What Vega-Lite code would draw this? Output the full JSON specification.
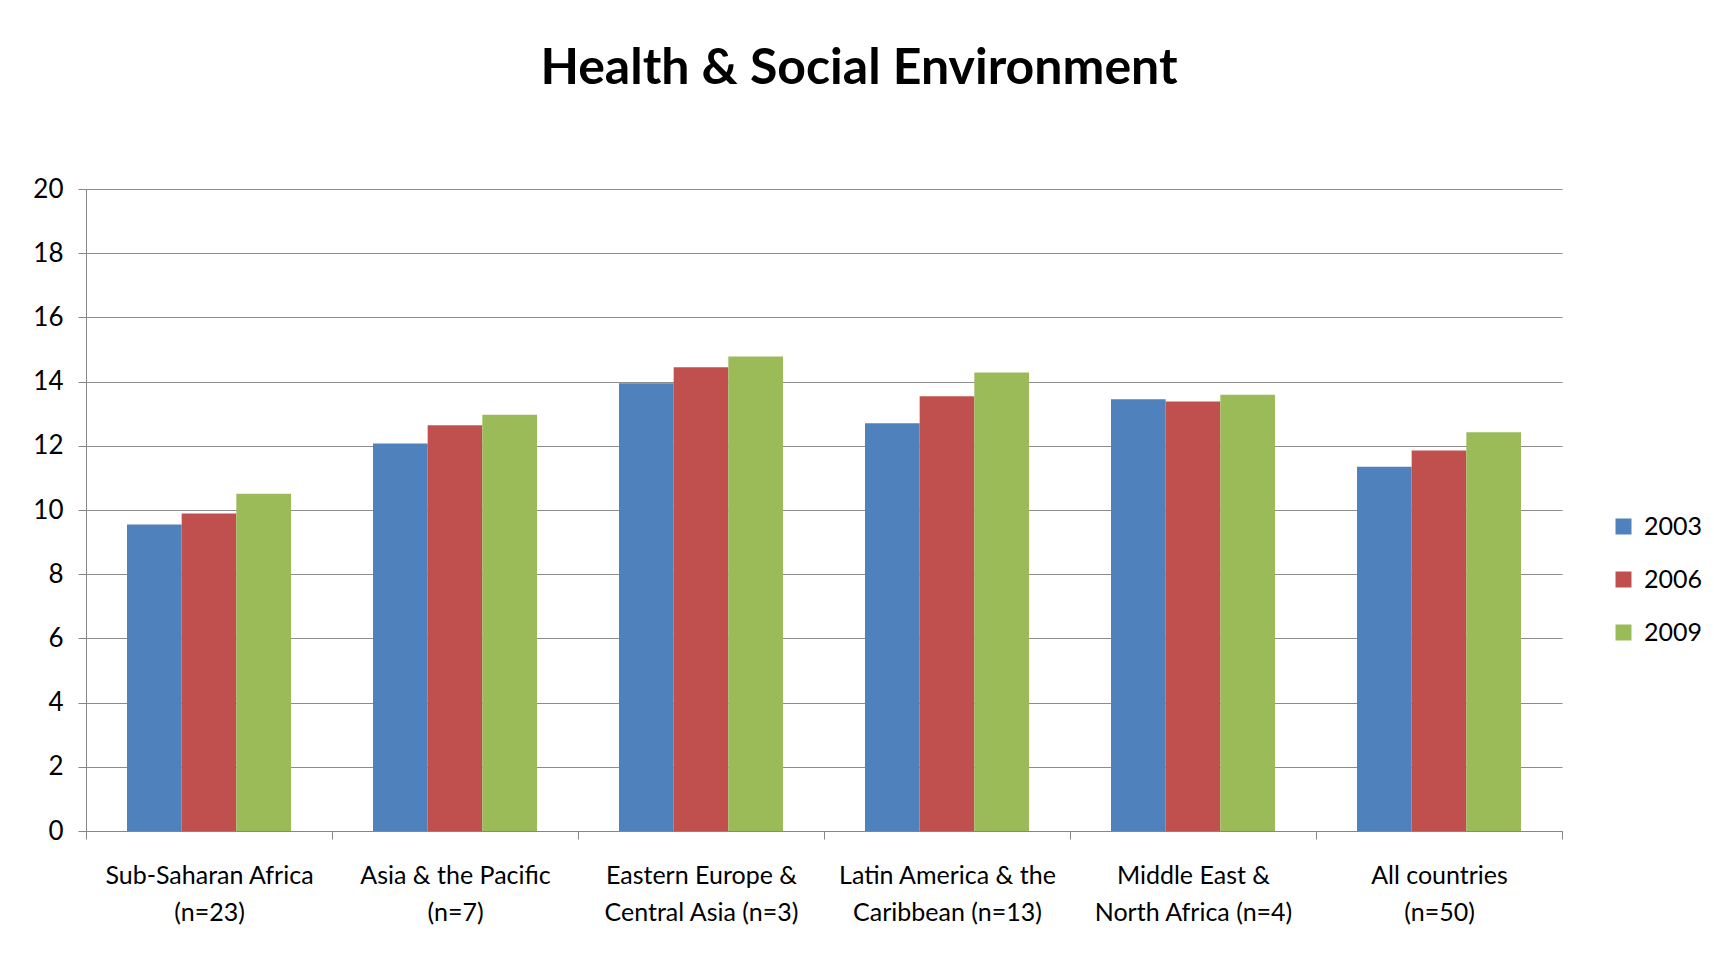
{
  "$schema": "https://vega.github.io/schema/vega-lite/v6.json",
  "width": 1476,
  "height": 642,
  "padding": {"left": 20, "top": 44, "right": 20, "bottom": 20},
  "background": "white",
  "title": {
    "text": "Health & Social Environment",
    "font": "Lato",
    "fontSize": 50,
    "fontWeight": "bold",
    "color": "black",
    "anchor": "middle",
    "offset": 82,
    "dx": 35
  },
  "data": {
    "values": [
      {"region": "Sub-Saharan Africa|(n=23)", "year": "2003", "value": 9.55},
      {"region": "Sub-Saharan Africa|(n=23)", "year": "2006", "value": 9.89},
      {"region": "Sub-Saharan Africa|(n=23)", "year": "2009", "value": 10.51},
      {"region": "Asia & the Pacific|(n=7)", "year": "2003", "value": 12.07},
      {"region": "Asia & the Pacific|(n=7)", "year": "2006", "value": 12.64},
      {"region": "Asia & the Pacific|(n=7)", "year": "2009", "value": 12.97},
      {"region": "Eastern Europe &|Central Asia (n=3)", "year": "2003", "value": 13.95},
      {"region": "Eastern Europe &|Central Asia (n=3)", "year": "2006", "value": 14.45},
      {"region": "Eastern Europe &|Central Asia (n=3)", "year": "2009", "value": 14.78},
      {"region": "Latin America & the|Caribbean (n=13)", "year": "2003", "value": 12.70},
      {"region": "Latin America & the|Caribbean (n=13)", "year": "2006", "value": 13.54},
      {"region": "Latin America & the|Caribbean (n=13)", "year": "2009", "value": 14.28},
      {"region": "Middle East &|North Africa (n=4)", "year": "2003", "value": 13.45},
      {"region": "Middle East &|North Africa (n=4)", "year": "2006", "value": 13.38},
      {"region": "Middle East &|North Africa (n=4)", "year": "2009", "value": 13.59},
      {"region": "All countries|(n=50)", "year": "2003", "value": 11.35},
      {"region": "All countries|(n=50)", "year": "2006", "value": 11.85},
      {"region": "All countries|(n=50)", "year": "2009", "value": 12.42}
    ]
  },
  "mark": {"type": "bar"},
  "encoding": {
    "x": {
      "field": "region",
      "type": "nominal",
      "sort": null,
      "scale": {"paddingInner": 0, "paddingOuter": 0},
      "axis": {
        "title": null,
        "labelAngle": 0,
        "labelExpr": "split(datum.label, '|')",
        "labelFont": "Lato",
        "labelFontSize": 25,
        "labelColor": "black",
        "labelLineHeight": 37,
        "labelPadding": 24,
        "tickBand": "extent",
        "tickSize": 8,
        "tickColor": "#868686",
        "domainColor": "#868686",
        "labelLimit": 0
      }
    },
    "xOffset": {
      "field": "year",
      "type": "nominal",
      "scale": {"paddingInner": 0, "paddingOuter": 0.75}
    },
    "y": {
      "field": "value",
      "type": "quantitative",
      "scale": {"domain": [0, 20], "nice": false},
      "axis": {
        "title": null,
        "values": [0, 2, 4, 6, 8, 10, 12, 14, 16, 18, 20],
        "labelFont": "Lato",
        "labelFontSize": 26,
        "labelColor": "black",
        "labelPadding": 15,
        "tickSize": 8,
        "tickColor": "#868686",
        "domainColor": "#868686",
        "grid": true,
        "gridColor": "#8c8c8c",
        "minExtent": 66,
        "maxExtent": 66
      }
    },
    "color": {
      "field": "year",
      "type": "nominal",
      "scale": {"domain": ["2003", "2006", "2009"], "range": ["#4F81BD", "#C0504D", "#9BBB59"]},
      "legend": {
        "title": null,
        "orient": "none",
        "legendX": 1525,
        "legendY": 325,
        "symbolType": "square",
        "symbolSize": 256,
        "symbolStrokeWidth": 0,
        "labelFont": "Lato",
        "labelFontSize": 25,
        "labelColor": "black",
        "labelOffset": 8,
        "rowPadding": 27
      }
    }
  },
  "config": {"view": {"stroke": null}}
}
